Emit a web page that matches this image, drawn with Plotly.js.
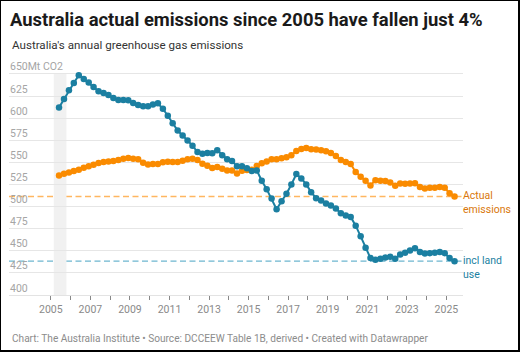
<!DOCTYPE html>
<html>
<head>
<meta charset="utf-8">
<script src="https://cdn.plot.ly/plotly-3.0.1.min.js"></script>
<style>
  html, body { margin: 0; padding: 0; background: #fff; }
  #wrap { position: relative; width: 520px; height: 352px; }
  #chart { width: 520px; height: 352px; }
  #frame { position: absolute; left: 0; top: 0; width: 520px; height: 352px; box-sizing: border-box;
           border-left: 1px solid #000; border-top: 1px solid #000; border-right: 2px solid #000; border-bottom: 2px solid #000;
           pointer-events: none; }
</style>
</head>
<body>
<div id="wrap"><div id="chart"></div><div id="frame"></div></div>
<script>
// Quarterly dates
const quarters = [
  "2005-06","2005-09","2005-12",
  "2006-03","2006-06","2006-09","2006-12",
  "2007-03","2007-06","2007-09","2007-12",
  "2008-03","2008-06","2008-09","2008-12",
  "2009-03","2009-06","2009-09","2009-12",
  "2010-03","2010-06","2010-09","2010-12",
  "2011-03","2011-06","2011-09","2011-12",
  "2012-03","2012-06","2012-09","2012-12",
  "2013-03","2013-06","2013-09","2013-12",
  "2014-03","2014-06","2014-09","2014-12",
  "2015-03","2015-06","2015-09","2015-12",
  "2016-03","2016-06","2016-09","2016-12",
  "2017-03","2017-06","2017-09","2017-12",
  "2018-03","2018-06","2018-09","2018-12",
  "2019-03","2019-06","2019-09","2019-12",
  "2020-03","2020-06","2020-09","2020-12",
  "2021-03","2021-06","2021-09","2021-12",
  "2022-03","2022-06","2022-09","2022-12",
  "2023-03","2023-06","2023-09","2023-12",
  "2024-03","2024-06","2024-09","2024-12",
  "2025-03","2025-06"
];

// Actual emissions (Mt CO2-e)
const actualEmissions = [
  535.2,537.1,538.6,
  540.2,541.7,543.9,545.5,
  547.3,549.2,550.4,551.1,
  551.5,552.7,554.2,554.9,
  554.2,553.4,549.6,547.7,
  548.1,548.1,550.0,550.8,
  550.4,550.4,551.9,553.4,
  554.2,552.7,548.5,546.2,
  543.6,544.7,542.8,540.9,
  540.9,537.5,540.5,541.3,
  541.6,545.8,548.9,551.1,
  553.4,553.4,554.5,555.7,
  558.0,562.9,565.2,566.3,
  564.8,564.4,563.6,562.5,
  560.6,557.2,552.7,550.4,
  548.1,539.0,533.7,529.2,
  523.9,529.9,529.2,528.8,
  527.3,523.5,526.1,525.8,
  526.1,526.5,522.0,520.5,
  521.2,521.2,522.0,521.2,
  515.2,511.4
];

// Including land use (Mt CO2-e)
const inclLandUse = [
  612.1,621.6,631.4,
  639.8,648.5,644.3,640.2,
  635.2,630.3,628.4,626.1,
  622.7,620.5,620.5,620.1,
  617.0,614.8,613.3,613.3,
  615.5,616.7,610.6,602.7,
  594.3,586.0,580.3,574.6,
  568.9,561.7,559.8,560.6,
  560.2,563.6,558.0,553.4,
  551.5,545.5,545.5,543.2,
  540.2,540.9,529.2,519.7,
  509.1,497.0,506.1,514.4,
  525.0,536.7,531.8,525.0,
  516.3,509.5,506.8,503.4,
  501.1,497.7,492.4,489.8,
  488.3,478.4,466.3,453.4,
  441.7,439.8,440.9,442.4,
  443.2,440.9,445.8,447.7,
  450.4,453.0,448.5,447.0,
  447.3,447.7,448.5,447.3,
  441.7,438.3
];

const yTickVals = [400,425,450,475,500,525,550,575,600,625,650];
const yTickText = ["400","425","450","475","500","525","550","575","600","625","650Mt CO2"];
const xTickVals = ["2005-01-01","2006-01-01","2007-01-01","2008-01-01","2009-01-01","2010-01-01","2011-01-01",
  "2012-01-01","2013-01-01","2014-01-01","2015-01-01","2016-01-01","2017-01-01","2018-01-01","2019-01-01",
  "2020-01-01","2021-01-01","2022-01-01","2023-01-01","2024-01-01","2025-01-01"];
const xTickText = ["2005","","2007","","2009","","2011","","2013","","2015","","2017","","2019","","2021","","2023","","2025"];
const seriesLabels = { actual: "Actual<br>emissions", land: "incl land<br>use" };

const ORANGE = "#fa8b00", BLUE = "#1b7fa1";
const lastActual = actualEmissions[actualEmissions.length - 1];
const lastLand = inclLandUse[inclLandUse.length - 1];

const traces = [
  { x: quarters, y: actualEmissions, type: "scatter", mode: "lines+markers",
    line: { color: ORANGE, width: 2 }, marker: { color: ORANGE, size: 6.5 }, hoverinfo: "skip", name: "Actual emissions" },
  { x: quarters, y: inclLandUse, type: "scatter", mode: "lines+markers",
    line: { color: BLUE, width: 2 }, marker: { color: BLUE, size: 6.5 }, hoverinfo: "skip", name: "incl land use" }
];

function labelAnn(text, y, color) {
  return { text: text, xref: "paper", yref: "y", x: 1, y: y, xanchor: "left", yanchor: "top",
    yshift: 8, xshift: -1, align: "left", showarrow: false, borderpad: 0,
    font: { family: "Roboto, sans-serif", size: 10.5, color: color } };
}

// y-axis labels drawn inside the plot, above each gridline
const yLabelAnns = yTickVals.map((v, i) => ({
  text: yTickText[i], xref: "paper", yref: "y", x: 0, y: v, xanchor: "left", yanchor: "middle",
  xshift: 0, yshift: 7, showarrow: false, borderpad: 0,
  font: { family: "Roboto, sans-serif", size: 10.5, color: "#a5a5a5" }
}));

const PT = 58, PB = 57, PH = 352 - PT - PB;

const layout = {
  width: 520, height: 352,
  margin: { l: 9, r: 57, t: PT, b: PB },
  paper_bgcolor: "#fff", plot_bgcolor: "#fff",
  showlegend: false,
  font: { family: "Roboto, sans-serif", color: "#333" },
  title: { text: "Australia actual emissions since 2005 have fallen just 4%",
    xref: "container", yref: "container", x: 10/520, xanchor: "left", y: 1 - 20/352, yanchor: "middle",
    font: { family: "Roboto, sans-serif", size: 18.4, weight: 700, color: "#1a1a1a" } },
  xaxis: {
    type: "date", range: ["2002-11-20", "2025-11-04"],
    tickmode: "array", tickvals: xTickVals, ticktext: xTickText,
    ticks: "outside", ticklen: 4, tickcolor: "#888", tickwidth: 1,
    showgrid: false, showline: true, linecolor: "#e3e3e3", linewidth: 1,
    tickfont: { family: "Roboto, sans-serif", size: 10.5, color: "#8a8a8a" },
    ticklabeloverflow: "allow", zeroline: false, fixedrange: true
  },
  yaxis: {
    range: [400, 668], tickmode: "array", tickvals: yTickVals, ticktext: yTickText,
    showticklabels: false, ticks: "", showline: false,
    showgrid: true, gridcolor: "#e6e6e6", gridwidth: 1, zeroline: false, fixedrange: true
  },
  shapes: [
    { type: "rect", xref: "x", yref: "y", x0: "2005-02-24", x1: "2005-10-16", y0: 400, y1: 650,
      fillcolor: "#f1f1f1", line: { width: 0 }, layer: "below" },
    { type: "line", xref: "paper", yref: "y", x0: 0, x1: 1, y0: lastActual, y1: lastActual,
      line: { color: "#ffb660", width: 1.3, dash: "6px,3.5px" }, layer: "below" },
    { type: "line", xref: "paper", yref: "y", x0: 0, x1: 1, y0: lastLand, y1: lastLand,
      line: { color: "#6db6cf", width: 1.3, dash: "6px,3.5px" }, layer: "below" }
  ],
  annotations: [
    { text: "Australia's annual greenhouse gas emissions", xref: "paper", yref: "paper",
      x: 0, xshift: 1, y: (295 - 45) / PH, xanchor: "left", yanchor: "middle", showarrow: false,
      font: { family: "Roboto, sans-serif", size: 11.6, color: "#333" } },
    { text: "Chart: The Australia Institute • Source: DCCEEW Table 1B, derived • Created with Datawrapper",
      xref: "paper", yref: "paper", x: 0, xshift: 1, y: (295 - 338) / PH, xanchor: "left", yanchor: "middle",
      showarrow: false, font: { family: "Roboto, sans-serif", size: 10.1, color: "#8c8c8c" } },
    labelAnn(seriesLabels.actual, lastActual, "#d9770b"),
    labelAnn(seriesLabels.land, lastLand, "#1b7fa1")
  ].concat(yLabelAnns)
};

Plotly.newPlot("chart", traces, layout, { staticPlot: true, displayModeBar: false });
</script>
</body>
</html>
